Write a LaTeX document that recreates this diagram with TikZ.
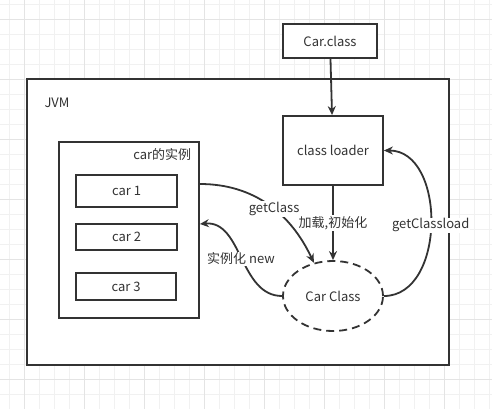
\documentclass[tikz,border=0pt]{standalone}
\usepackage{fontspec}
\setmainfont{Noto Sans CJK SC}
\usetikzlibrary{arrows.meta,shapes.geometric}
\definecolor{ink}{HTML}{333333}
\definecolor{gridminor}{HTML}{F1F1F1}
\definecolor{gridmajor}{HTML}{E4E4E4}

\begin{document}
\begin{tikzpicture}[x=1pt,y=-1pt,line width=1.8pt,>={Stealth[length=9pt,width=8pt]},
  font=\fontsize{13}{15}\selectfont]
			\tikzstyle{every node} = [text=ink, inner sep=1pt]
			\tikzstyle{box} = [draw=ink, fill=white, rectangle]
			\tikzstyle{lbl} = [fill=white]
			\useasboundingbox (0,0) rectangle (492,409);
			% grid of the canvas
			\foreach \g in {0,...,32}
			{
			\draw [gridminor,line width=0.8pt] (9.3+15*\g,0) -- (9.3+15*\g,409);
			\draw [gridminor,line width=0.8pt] (0,4.3+15*\g) -- (492,4.3+15*\g);
			}
			\foreach \g in {0,...,8}
			{
			\draw [gridmajor,line width=0.8pt] (24.3+60*\g,0) -- (24.3+60*\g,409);
			\draw [gridmajor,line width=0.8pt] (0,19.3+60*\g) -- (492,19.3+60*\g);
			}
			\node[box, minimum width=422, minimum height=286] (jvm) at (238,222) {};
			\node (jvmname) at (57,103) {JVM};
			\node[box, minimum width=94, minimum height=34] (carfile) at (330,41) {Car.class};
			\node[box, minimum width=100, minimum height=69] (loader) at (333,150.5) {class loader};
			\node[box, minimum width=140, minimum height=176] (inst) at (129,230) {};
			\node[anchor=east] (instname) at (193,155) {car的实例};
			\node[box, minimum width=101, minimum height=32] (car1) at (126.5,191) {car 1};
			\node[box, minimum width=101, minimum height=26] (car2) at (126.5,237) {car 2};
			\node[box, minimum width=100, minimum height=27] (car3) at (126,286.5) {car 3};
			\node[draw=ink, ellipse, dash pattern=on 8pt off 5pt, minimum width=100, minimum height=70] (carcls) at (333,296) {Car Class};
			% connectors
			\draw [ink,->] (carfile) -- (loader);
			\draw [ink,->] (loader) -- node[lbl] {加载,初始化} (carcls);
			\draw [ink,->] ([yshift=46pt]inst.east) to[out=0,in=115] node[lbl,pos=0.55] {getClass} (carcls.120);
			\draw [ink,->] (carcls.west) to[out=180,in=5] node[lbl] {实例化 new} ([yshift=6pt]inst.east);
			\draw [ink,->] (carcls.east) to[out=0,in=0,looseness=1.1] node[lbl,pos=0.49] {getClassload} (loader.east);
			\end{tikzpicture}
\end{document}
